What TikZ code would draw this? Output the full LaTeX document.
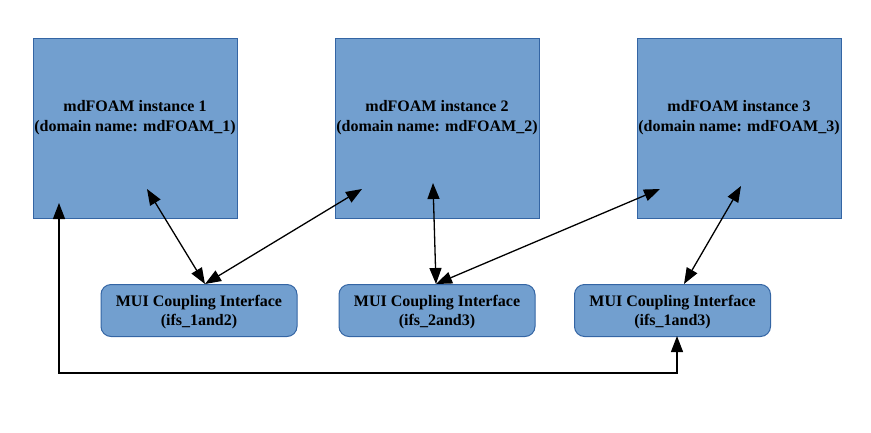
\documentclass[tikz,border=0pt]{standalone}
\usepackage{fontspec}
\setmainfont{Liberation Serif}
\usetikzlibrary{arrows.meta}
\definecolor{boxfill}{HTML}{729FCF}
\definecolor{boxline}{HTML}{3465A4}
\begin{document}
\begin{tikzpicture}[x=1pt,y=-1pt,
  inst/.style={draw=boxline,fill=boxfill,line width=1pt,minimum width=204pt,minimum height=180pt,inner sep=0pt},
  mui/.style={draw=boxline,fill=boxfill,line width=1pt,rounded corners=10pt,minimum width=196pt,minimum height=52pt,inner sep=0pt},
  lbl/.style={align=center,font=\fontsize{16}{20}\selectfont\bfseries,inner sep=0pt},
  mlbl/.style={align=center,font=\fontsize{16}{19}\selectfont\bfseries,inner sep=0pt},
  link/.style={line width=1.3pt,{Triangle[length=16pt,width=12pt]}-{Triangle[length=16pt,width=12pt]}},
]
\useasboundingbox (0,0) rectangle (871,432);
\node[inst] (i1) at (135,128) {};
\node[inst] (i2) at (437,128) {};
\node[inst] (i3) at (739,128) {};
\node[lbl] (t1) at (135,118) {mdFOAM instance 1\\(domain name: mdFOAM\_1)};
\node[lbl] (t2) at (437,118) {mdFOAM instance 2\\(domain name: mdFOAM\_2)};
\node[lbl] (t3) at (739,118) {mdFOAM instance 3\\(domain name: mdFOAM\_3)};
\node[mui] (m1) at (199,310.5) {};
\node[mui] (m2) at (437,310.5) {};
\node[mui] (m3) at (672.5,310.5) {};
\node[mlbl] (u1) at (199,312) {MUI Coupling Interface\\(ifs\_1and2)};
\node[mlbl] (u2) at (437,312) {MUI Coupling Interface\\(ifs\_2and3)};
\node[mlbl] (u3) at (672.5,312) {MUI Coupling Interface\\(ifs\_1and3)};
% endpoints inside instance boxes
\coordinate (a1) at (147,189);
\coordinate (a2) at (362,189);
\coordinate (a3) at (433,183);
\coordinate (a4) at (660,189);
\coordinate (a5) at (741,186);
\coordinate (a6) at (59,203);
% endpoints on MUI boxes
\coordinate (b1) at (205,284);
\coordinate (b3) at (436,284);
\coordinate (b5) at (684,284);
\coordinate (b6) at (677,336);
\coordinate (c6) at (677,373);
\draw[link] (a1) -- (b1);
\draw[link] (a2) -- (b1);
\draw[link] (a3) -- (b3);
\draw[link] (a4) -- (b3);
\draw[link] (a5) -- (b5);
\draw[link] (a6) |- (c6) -- (b6);
\end{tikzpicture}
\end{document}
